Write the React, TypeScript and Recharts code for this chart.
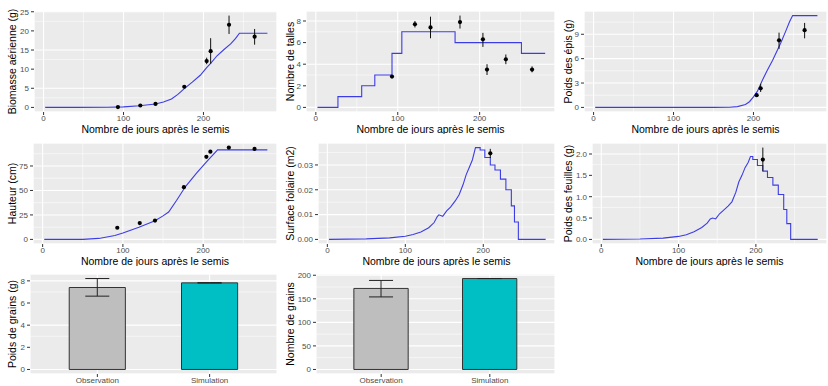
import React from "react"
import { ComposedChart, BarChart, Bar, Cell, Line, Scatter, ErrorBar, XAxis, YAxis, CartesianGrid } from "recharts"

const FONT = "'Liberation Sans', Arial, sans-serif"
const BLUE = "#3C3CE6"

// days after sowing
const dayDomain = [-12, 292]
const dayTicks = [0, 100, 200]
const dayMinor = [50, 150, 250]
const obsDays = [93, 121, 140, 176, 204, 209, 232, 264]

// Biomasse aérienne (g)
const biomSimDays = [2, 40, 80, 100, 120, 140, 150, 160, 168, 176, 186, 196, 204, 209, 217, 225, 234, 240, 245, 280]
const biomSim = [0, 0.02, 0.06, 0.15, 0.45, 0.9, 1.4, 2.2, 3.4, 4.9, 6.6, 8.4, 10.4, 11.5, 13.5, 15.0, 16.6, 18.0, 19.4, 19.4]
const biomObs = [0.1, 0.5, 0.9, 5.4, 12.1, 14.7, 21.6, 18.5]
const biomLo = [0.05, 0.4, 0.75, 5.2, 11.3, 11.4, 19.2, 16.4]
const biomHi = [0.15, 0.6, 1.05, 5.6, 13.0, 18.1, 24.0, 20.5]

// Nombre de talles
const tallSimDays = [2, 27, 56, 72, 93, 105, 170, 251, 280]
const tallSim = [0, 1, 2, 3, 5, 7, 6, 5, 5]
const tallObs = [2.85, 7.7, 7.4, 7.9, 6.3, 3.5, 4.45, 3.5]
const tallLo = [2.8, 7.4, 6.4, 7.3, 5.6, 3.0, 4.0, 3.25]
const tallHi = [2.9, 8.0, 8.4, 8.5, 6.9, 4.0, 4.9, 3.8]

// Poids des épis (g)
const episSimDays = [2, 150, 170, 180, 190, 195, 200, 205, 211, 217, 224, 234, 240, 245, 249, 280]
const episSim = [0, 0, 0.02, 0.1, 0.35, 0.7, 1.3, 2.0, 3.3, 4.5, 5.8, 7.9, 9.3, 10.5, 11.3, 11.3]
const episObsDays = [204, 209, 232, 264]
const episObs = [1.5, 2.35, 8.25, 9.5]
const episLo = [1.35, 1.9, 7.2, 8.5]
const episHi = [1.65, 2.9, 9.2, 10.4]

// Hauteur (cm)
const hautSimDays = [2, 50, 70, 90, 100, 120, 140, 150, 157, 167, 178, 192, 205, 218, 280]
const hautSim = [0, 0, 1, 4, 6.5, 12.5, 19, 24, 28, 40, 54, 68, 80, 91.5, 91.5]
const hautObs = [11.9, 16.7, 19.2, 53.4, 84.4, 89.6, 93.8, 92.4]

// Surface foliaire (m2)
const surfSimDays = [2, 50, 80, 100, 110, 120, 130, 137, 141, 143, 148, 153, 158, 164, 169, 174, 178, 182, 186, 190, 196, 196, 202, 202, 209, 209, 215, 215, 222, 222, 229, 229, 236, 236, 240, 240, 245, 245, 280]
const surfSim = [0, 0.0002, 0.0006, 0.0013, 0.002, 0.003, 0.0047, 0.0068, 0.0092, 0.0099, 0.0093, 0.0115, 0.013, 0.0155, 0.018, 0.022, 0.026, 0.029, 0.032, 0.037, 0.037, 0.036, 0.036, 0.033, 0.033, 0.03, 0.03, 0.028, 0.028, 0.0243, 0.0243, 0.02, 0.02, 0.0135, 0.0135, 0.007, 0.007, 0, 0]
const surfObsDays = [209]
const surfObs = [0.0347]
const surfLo = [0.0328]
const surfHi = [0.0365]

// Poids des feuilles (g)
const feuilSimDays = [2, 50, 80, 100, 110, 120, 130, 137, 141, 144, 148, 153, 158, 164, 169, 174, 178, 182, 186, 190, 193, 196, 196, 202, 202, 209, 209, 215, 215, 222, 222, 229, 229, 236, 236, 240, 240, 245, 245, 280]
const feuilSim = [0, 0.01, 0.03, 0.07, 0.11, 0.18, 0.28, 0.38, 0.48, 0.5, 0.48, 0.6, 0.68, 0.78, 0.88, 1.1, 1.35, 1.5, 1.68, 1.8, 1.94, 1.94, 1.87, 1.87, 1.73, 1.73, 1.6, 1.6, 1.45, 1.45, 1.27, 1.27, 1.05, 1.05, 0.7, 0.7, 0.37, 0.37, 0, 0]
const feuilObsDays = [209]
const feuilObs = [1.87]
const feuilLo = [1.6]
const feuilHi = [2.15]

// grains
const barCats = ["Observation", "Simulation"]
const barColors = ["#BEBEBE", "#00BFC4"]
const poidsGrains = [7.4, 7.82]
const poidsGrainsLo = [6.62, 7.82]
const poidsGrainsHi = [8.21, 7.82]
const nbGrains = [172, 193]
const nbGrainsLo = [154, 193]
const nbGrainsHi = [189, 193]

const line = (days: number[], vals: number[]) => days.map((day, i) => ({ day, v: vals[i] }))
const points = (days: number[], vals: number[], lo?: number[], hi?: number[]) =>
  days.map((day, i) => ({ day, v: vals[i], err: lo && hi ? [vals[i] - lo[i], hi[i] - vals[i]] : [0, 0] }))
const bars = (vals: number[], lo: number[], hi: number[]) =>
  barCats.map((name, i) => ({ name, v: vals[i], err: [vals[i] - lo[i], hi[i] - vals[i]] }))

const tickStyle = { fontSize: 8, fill: "#4D4D4D", fontFamily: FONT }
const titleStyle = { fontSize: 10.5, fill: "#000", fontFamily: FONT }

const Dot = (p: any) => <circle cx={p.cx} cy={p.cy} r={2.1} fill="#000" />

function TimePanel(props: any) {
  const { left, top, width, axisW, mt, yLabel, yDomain, yTicks, yMinor, fmt, sim, obs, step, bars: showErr } = props
  const xh = 22
  return (
    <div style={{ position: "absolute", left, top }}>
      <ComposedChart width={width} height={mt + 101 + xh} margin={{ top: mt, right: 1, bottom: 0, left: 0 }}>
        <XAxis xAxisId="m" type="number" dataKey="day" domain={dayDomain} ticks={dayMinor} allowDataOverflow hide />
        <YAxis yAxisId="m" type="number" domain={yDomain} ticks={yMinor} allowDataOverflow hide />
        <CartesianGrid xAxisId="m" yAxisId="m" fill="#EBEBEB" stroke="#FFFFFF" strokeWidth={0.55} />
        <CartesianGrid stroke="#FFFFFF" strokeWidth={1.1} fill="none" />
        <XAxis
          type="number"
          dataKey="day"
          domain={dayDomain}
          ticks={dayTicks}
          allowDataOverflow
          height={xh}
          axisLine={false}
          tickSize={3}
          tickMargin={0}
          tickLine={{ stroke: "#333" }}
          tick={tickStyle}
          label={{ value: "Nombre de jours après le semis", position: "insideBottom", offset: 1, style: titleStyle }}
        />
        <YAxis
          type="number"
          domain={yDomain}
          ticks={yTicks}
          allowDataOverflow
          width={axisW}
          axisLine={false}
          tickSize={3}
          tickMargin={2}
          tickLine={{ stroke: "#333" }}
          tick={tickStyle}
          tickFormatter={fmt}
          label={{ value: yLabel, angle: -90, position: "insideLeft", offset: 12, style: { ...titleStyle, textAnchor: "middle" } }}
        />
        <Line data={sim} dataKey="v" type={step ? "stepAfter" : "linear"} stroke={BLUE} strokeWidth={1.1} dot={false} isAnimationActive={false} />
        <Scatter data={obs} dataKey="v" shape={Dot} isAnimationActive={false}>
          {showErr && <ErrorBar dataKey="err" direction="y" width={0} stroke="#111" strokeWidth={1} />}
        </Scatter>
      </ComposedChart>
    </div>
  )
}

function BarPanel(props: any) {
  const { left, top, width, axisW, yLabel, yDomain, yTicks, yMinor, data } = props
  const plotW = width - axisW - 1
  const pad = plotW * (0.1 / 2.2)
  const bw = (plotW / 2.2) * 0.5
  return (
    <div style={{ position: "absolute", left, top }}>
      <BarChart width={width} height={10 + 100 + 11} data={data} margin={{ top: 10, right: 1, bottom: 0, left: 0 }}>
        <YAxis yAxisId="m" type="number" domain={yDomain} ticks={yMinor} allowDataOverflow hide />
        <CartesianGrid yAxisId="m" vertical={false} fill="#EBEBEB" stroke="#FFFFFF" strokeWidth={0.55} />
        <CartesianGrid stroke="#FFFFFF" strokeWidth={1.1} fill="none" />
        <XAxis
          dataKey="name"
          padding={{ left: pad, right: pad }}
          height={11}
          axisLine={false}
          tickSize={3}
          tickMargin={0}
          tickLine={{ stroke: "#333" }}
          tick={tickStyle}
        />
        <YAxis
          type="number"
          domain={yDomain}
          ticks={yTicks}
          allowDataOverflow
          width={axisW}
          axisLine={false}
          tickSize={3}
          tickMargin={2}
          tickLine={{ stroke: "#333" }}
          tick={tickStyle}
          label={{ value: yLabel, angle: -90, position: "insideLeft", offset: 12, style: { ...titleStyle, textAnchor: "middle" } }}
        />
        <Bar dataKey="v" barSize={bw} stroke="#333" strokeWidth={1} isAnimationActive={false}>
          {data.map((d: any, i: number) => (
            <Cell key={d.name} fill={barColors[i]} />
          ))}
          <ErrorBar dataKey="err" direction="y" width={12} stroke="#222" strokeWidth={1} />
        </Bar>
      </BarChart>
    </div>
  )
}

export default function App() {
  return (
    <div style={{ position: "relative", width: 828, height: 386, overflow: "hidden", background: "#fff", fontFamily: FONT }}>
      <style>{"html,body{margin:0;padding:0;overflow:hidden}"}</style>
      <TimePanel
        left={0} top={0} width={278} axisW={34} mt={11}
        yLabel="Biomasse aérienne (g)" yDomain={[-1.2, 25.2]} yTicks={[0, 5, 10, 15, 20, 25]} yMinor={[2.5, 7.5, 12.5, 17.5, 22.5]}
        sim={line(biomSimDays, biomSim)} obs={points(obsDays, biomObs, biomLo, biomHi)} bars
      />
      <TimePanel
        left={278} top={0} width={278} axisW={28} mt={11}
        yLabel="Nombre de talles" yDomain={[-0.425, 8.925]} yTicks={[0, 2, 4, 6, 8]} yMinor={[1, 3, 5, 7]}
        sim={line(tallSimDays, tallSim)} obs={points(obsDays, tallObs, tallLo, tallHi)} step bars
      />
      <TimePanel
        left={556} top={0} width={272} axisW={28} mt={11}
        yLabel="Poids des épis (g)" yDomain={[-0.565, 11.865]} yTicks={[0, 3, 6, 9]} yMinor={[1.5, 4.5, 7.5, 10.5]}
        sim={line(episSimDays, episSim)} obs={points(episObsDays, episObs, episLo, episHi)} bars
      />
      <TimePanel
        left={0} top={132} width={278} axisW={33} mt={11}
        yLabel="Hauteur (cm)" yDomain={[-4.7, 98.5]} yTicks={[0, 25, 50, 75]} yMinor={[12.5, 37.5, 62.5, 87.5]}
        sim={line(hautSimDays, hautSim)} obs={points(obsDays, hautObs)}
      />
      <TimePanel
        left={278} top={132} width={278} axisW={40} mt={11}
        yLabel="Surface foliaire (m2)" yDomain={[-0.00185, 0.03885]} yTicks={[0, 0.01, 0.02, 0.03]} yMinor={[0.005, 0.015, 0.025, 0.035]}
        fmt={(v: number) => v.toFixed(2)}
        sim={line(surfSimDays, surfSim)} obs={points(surfObsDays, surfObs, surfLo, surfHi)} bars
      />
      <TimePanel
        left={556} top={132} width={272} axisW={36} mt={11}
        yLabel="Poids des feuilles (g)" yDomain={[-0.1075, 2.2575]} yTicks={[0, 0.5, 1, 1.5, 2]} yMinor={[0.25, 0.75, 1.25, 1.75]}
        fmt={(v: number) => v.toFixed(1)}
        sim={line(feuilSimDays, feuilSim)} obs={points(feuilObsDays, feuilObs, feuilLo, feuilHi)} bars
      />
      <BarPanel
        left={0} top={264} width={278} axisW={30}
        yLabel="Poids de grains (g)" yDomain={[-0.41, 8.62]} yTicks={[0, 2, 4, 6, 8]} yMinor={[1, 3, 5, 7]}
        data={bars(poidsGrains, poidsGrainsLo, poidsGrainsHi)}
      />
      <BarPanel
        left={278} top={264} width={278} axisW={38}
        yLabel="Nombre de grains" yDomain={[-9.65, 202.65]} yTicks={[0, 50, 100, 150, 200]} yMinor={[25, 75, 125, 175]}
        data={bars(nbGrains, nbGrainsLo, nbGrainsHi)}
      />
    </div>
  )
}
